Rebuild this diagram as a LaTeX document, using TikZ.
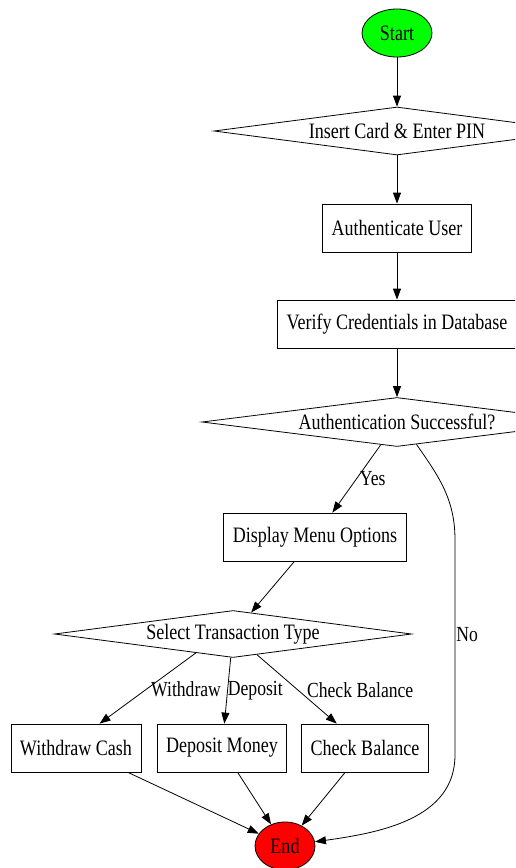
\documentclass[tikz,border=0pt]{standalone}
\usepackage{fontspec}
\setmainfont{Liberation Serif}[FakeStretch=0.82]
\usetikzlibrary{shapes.geometric,arrows.meta}
\begin{document}
\begin{tikzpicture}[x=1pt, y=-1pt, line width=0.8pt,
  every node/.style={font=\fontsize{22}{24}\selectfont},
  proc/.style={draw, rectangle, inner xsep=9pt, minimum height=48pt},
  choice/.style={draw, diamond, aspect=7.5, inner sep=0pt},
  lbl/.style={font=\fontsize{21.5}{23}\selectfont, inner sep=1pt},
  >={Triangle[length=11pt,width=8pt]}]
\clip (0,0) rectangle (515,868);

\node[draw, ellipse, fill=green, minimum width=70pt, minimum height=48pt] (start) at (397,33) {Start};
\node[choice, minimum width=366pt, minimum height=48pt] (insert) at (397,131) {Insert Card \& Enter PIN};
\node[proc] (auth) at (397,228) {Authenticate User};
\node[proc] (verify) at (397,324) {Verify Credentials in Database};
\node[choice, minimum width=390pt, minimum height=49pt] (ok) at (397,422) {Authentication Successful?};
\node[proc] (menu) at (315,537) {Display Menu Options};
\node[choice, minimum width=357pt, minimum height=47pt] (select) at (233,634) {Select Transaction Type};
\node[proc] (cash) at (76,748) {Withdraw Cash};
\node[proc] (deposit) at (222,748) {Deposit Money};
\node[proc] (balance) at (365,748) {Check Balance};
\node[draw, ellipse, fill=red, minimum width=60pt, minimum height=48pt] (stop) at (285,846) {End};

\coordinate (no1) at (455,540);
\coordinate (no2) at (455,755);

\draw[->] (start) -- (insert);
\draw[->] (insert) -- (auth);
\draw[->] (auth) -- (verify);
\draw[->] (verify) -- (ok);
\draw[->] (ok) -- node[lbl, anchor=west, xshift=2pt] {Yes} (menu);
\draw[->] (ok.-49) to[out=-55, in=90] (no1) -- node[lbl, pos=0.44, anchor=west] {No} (no2) to[out=-90, in=8] (stop);
\draw[->] (menu) -- (select);
\draw[->] (select.-153) -- node[lbl, pos=0.52, anchor=west, xshift=4pt] {Withdraw} (cash.46);
\draw[->] (select) -- node[lbl, pos=0.5, anchor=west, inner sep=0pt] {Deposit} (deposit);
\draw[->] (select) -- node[lbl, pos=0.51, anchor=west, xshift=8pt] {Check Balance} (balance);
\draw[->] (cash) -- (stop);
\draw[->] (deposit) -- (stop);
\draw[->] (balance) -- (stop);
\end{tikzpicture}
\end{document}
